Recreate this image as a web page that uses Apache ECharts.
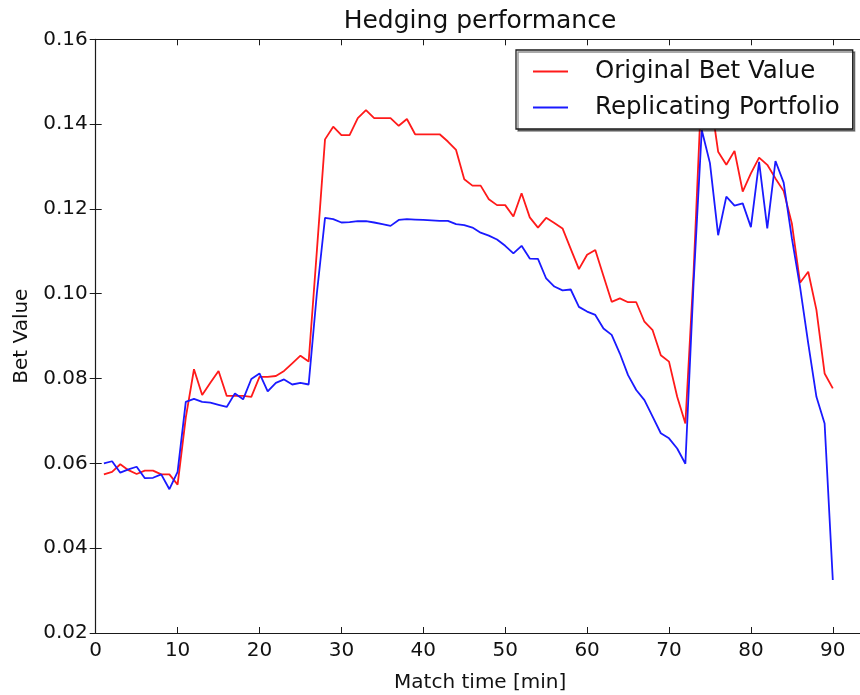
<!DOCTYPE html>
<html>
<head>
<meta charset="utf-8">
<script src="https://cdn.jsdelivr.net/npm/echarts@6/dist/echarts.min.js"></script>
<style>
  html, body { margin: 0; padding: 0; background: #fff; }
  #chart { width: 860px; height: 695px; }
</style>
</head>
<body>
<div id="chart"></div>
<script>
// Match minutes
const minutes = [];
for (let m = 1; m <= 90; m++) minutes.push(m);

// Value of the original bet over the match
const betValue = [
  0.0574, 0.0580, 0.0598, 0.0584, 0.0575, 0.0583, 0.0583, 0.0574, 0.0574, 0.0550,
  0.0708, 0.0822, 0.0761, 0.0790, 0.0818, 0.0759, 0.0759, 0.0759, 0.0757, 0.0804,
  0.0804, 0.0806, 0.0818, 0.0836, 0.0854, 0.0840, 0.1100, 0.1364, 0.1394, 0.1374,
  0.1374, 0.1414, 0.1433, 0.1414, 0.1414, 0.1414, 0.1396, 0.1412, 0.1376, 0.1376,
  0.1376, 0.1376, 0.1359, 0.1339, 0.1270, 0.1255, 0.1255, 0.1223, 0.1209, 0.1209,
  0.1182, 0.1237, 0.1180, 0.1156, 0.1179, 0.1167, 0.1154, 0.1106, 0.1058, 0.1092,
  0.1103, 0.1042, 0.0981, 0.0989, 0.0980, 0.0980, 0.0934, 0.0914, 0.0855, 0.0840,
  0.0757, 0.0694, 0.1050, 0.1500, 0.1470, 0.1335, 0.1304, 0.1337, 0.1241, 0.1284,
  0.1321, 0.1304, 0.1272, 0.1242, 0.1166, 0.1026, 0.1052, 0.0962, 0.0812, 0.0777
];

// Value of the replicating portfolio over the match
const portfolioValue = [
  0.0600, 0.0605, 0.0578, 0.0586, 0.0592, 0.0565, 0.0566, 0.0574, 0.0539, 0.0580,
  0.0745, 0.0752, 0.0745, 0.0743, 0.0738, 0.0733, 0.0765, 0.0751, 0.0799, 0.0812,
  0.0770, 0.0790, 0.0798, 0.0786, 0.0790, 0.0786, 0.1000, 0.1179, 0.1176, 0.1168,
  0.1169, 0.1171, 0.1171, 0.1168, 0.1164, 0.1160, 0.1174, 0.1176, 0.1175, 0.1174,
  0.1173, 0.1172, 0.1172, 0.1164, 0.1162, 0.1156, 0.1144, 0.1137, 0.1128, 0.1113,
  0.1095, 0.1113, 0.1083, 0.1082, 0.1036, 0.1017, 0.1008, 0.1010, 0.0969, 0.0958,
  0.0950, 0.0918, 0.0903, 0.0859, 0.0808, 0.0773, 0.0749, 0.0710, 0.0671, 0.0659,
  0.0635, 0.0599, 0.1025, 0.1386, 0.1308, 0.1138, 0.1229, 0.1208, 0.1213, 0.1157,
  0.1311, 0.1154, 0.1313, 0.1262, 0.1131, 0.1016, 0.0883, 0.0757, 0.0694, 0.0325
];

const seriesNames = ['Original Bet Value', 'Replicating Portfolio'];
const seriesColors = ['#ff1a1a', '#1a1aff'];

const FONT = 'DejaVu Sans';
const X_MIN = 0, X_MAX = 93.9, X_STEP = 10;
const Y_MIN = 0.02, Y_MAX = 0.16, Y_STEP = 0.02;

const pairs = vals => minutes.map((m, i) => [m, vals[i]]);

const frameLine = { show: true, lineStyle: { color: '#1a1a1a', width: 1.2 } };
const innerTicks = { show: true, inside: true, length: 6, lineStyle: { color: '#1a1a1a', width: 1 } };

const chart = echarts.init(document.getElementById('chart'), null, { renderer: 'canvas' });

chart.setOption({
  animation: false,
  backgroundColor: '#ffffff',
  title: {
    text: 'Hedging performance',
    left: 475,
    top: 4,
    textAlign: 'center',
    textStyle: { fontFamily: FONT, fontSize: 25, fontWeight: 'normal', color: '#111' }
  },
  legend: {
    orient: 'vertical',
    left: 516,
    top: 50,
    padding: [9, 13, 9, 17],
    itemGap: 11,
    itemWidth: 35,
    itemHeight: 2,
    icon: 'rect',
    backgroundColor: '#fff',
    borderColor: '#1a1a1a',
    borderWidth: 1.3,
    shadowColor: 'rgba(0,0,0,0.45)',
    shadowOffsetX: 2,
    shadowOffsetY: 2,
    shadowBlur: 0,
    textStyle: { fontFamily: FONT, fontSize: 24.5, color: '#111', padding: [0, 0, 0, 22] },
    data: seriesNames
  },
  grid: {
    left: 95.7, top: 39.3, bottom: 62, right: 860 - (95.7 + 8.19 * X_MAX),
    outerBoundsMode: 'none'
  },
  xAxis: [
    {
      type: 'value', min: X_MIN, max: X_MAX, interval: X_STEP,
      name: 'Match time [min]', nameLocation: 'middle', nameGap: 40,
      nameTextStyle: { fontFamily: FONT, fontSize: 20, color: '#111' },
      axisLine: frameLine, axisTick: innerTicks, splitLine: { show: false },
      axisLabel: { fontFamily: FONT, fontSize: 20, color: '#111', margin: 8, showMaxLabel: false }
    },
    {
      type: 'value', position: 'top', min: X_MIN, max: X_MAX, interval: X_STEP,
      axisLine: frameLine, axisTick: innerTicks, splitLine: { show: false },
      axisLabel: { show: false }
    }
  ],
  yAxis: [
    {
      type: 'value', min: Y_MIN, max: Y_MAX, interval: Y_STEP,
      name: 'Bet Value', nameLocation: 'middle', nameGap: 64, nameRotate: 90,
      nameTextStyle: { fontFamily: FONT, fontSize: 20, color: '#111' },
      axisLine: frameLine, axisTick: innerTicks, splitLine: { show: false },
      axisLabel: { fontFamily: FONT, fontSize: 20, color: '#111', margin: 8,
        formatter: v => v.toFixed(2) }
    },
    {
      // right frame sits just past the canvas edge; only its inward ticks show
      type: 'value', position: 'right', min: Y_MIN, max: Y_MAX, interval: Y_STEP,
      axisLine: { show: false }, axisTick: innerTicks, splitLine: { show: false },
      axisLabel: { show: false }
    }
  ],
  series: [
    {
      name: seriesNames[0], type: 'line', data: pairs(betValue),
      showSymbol: false, symbol: 'none', clip: true,
      lineStyle: { color: seriesColors[0], width: 1.8 }, itemStyle: { color: seriesColors[0] }, z: 2
    },
    {
      name: seriesNames[1], type: 'line', data: pairs(portfolioValue),
      showSymbol: false, symbol: 'none', clip: true,
      lineStyle: { color: seriesColors[1], width: 1.8 }, itemStyle: { color: seriesColors[1] }, z: 3
    }
  ]
});
</script>
</body>
</html>
